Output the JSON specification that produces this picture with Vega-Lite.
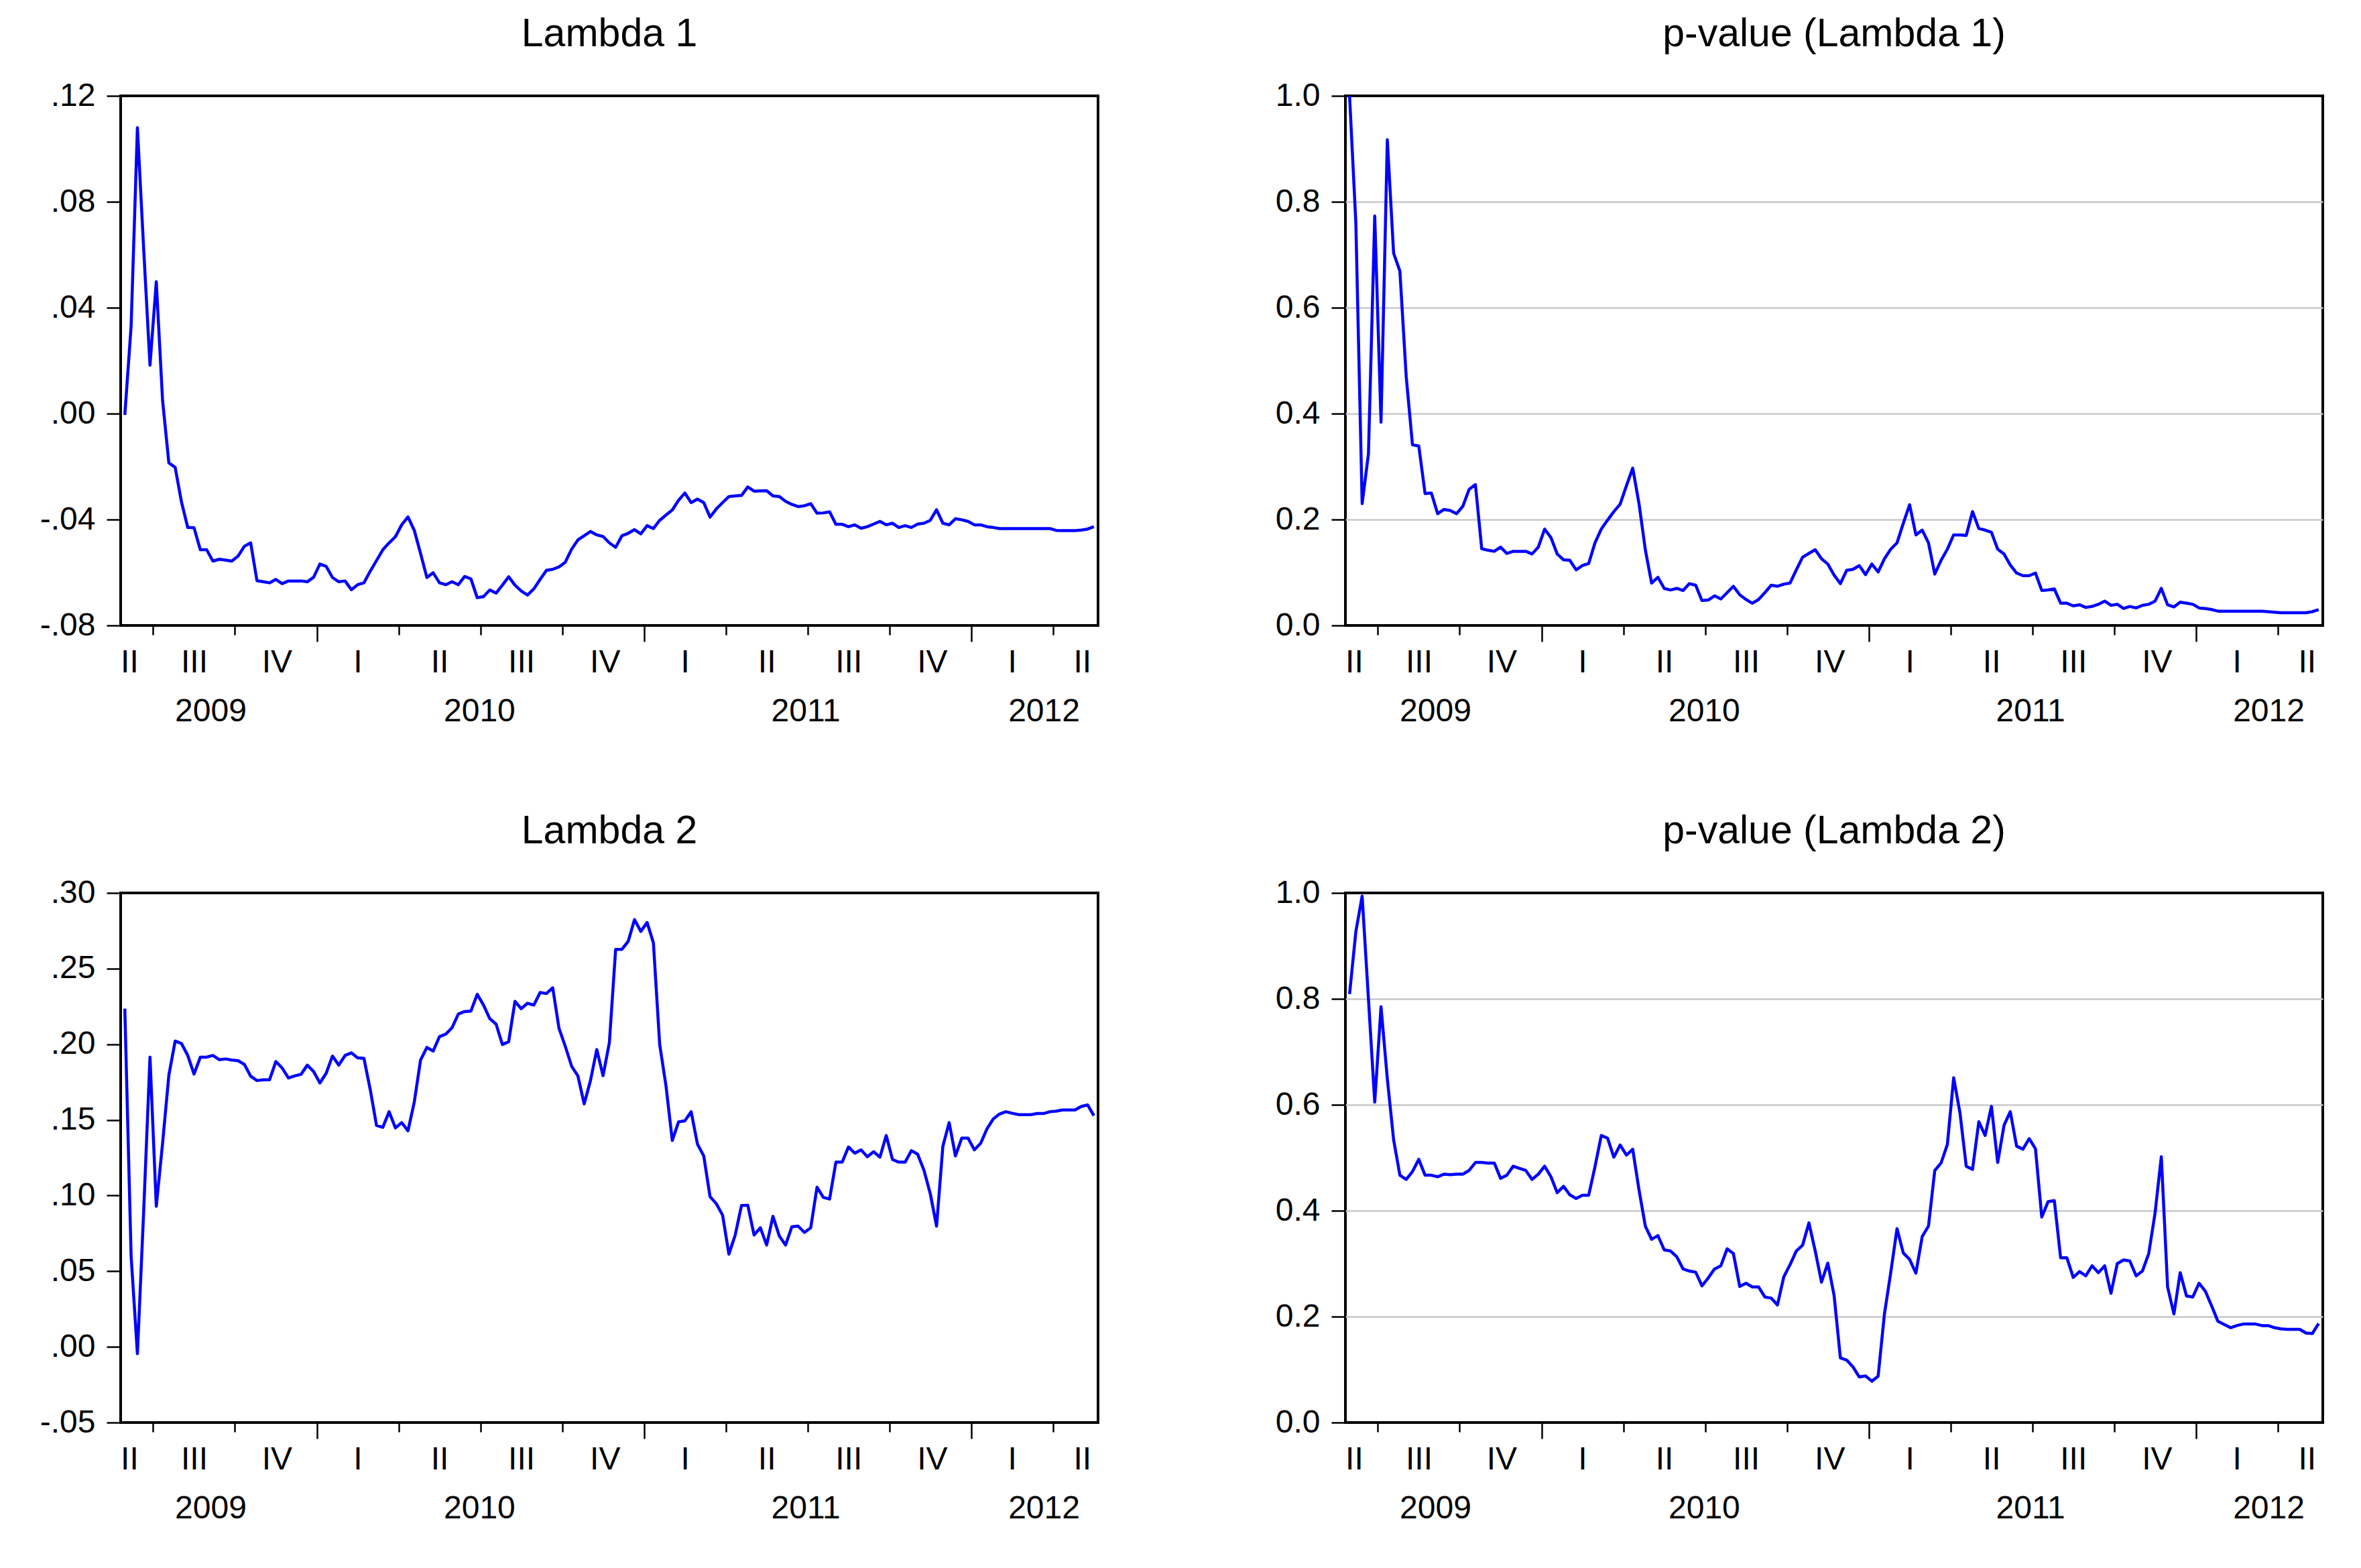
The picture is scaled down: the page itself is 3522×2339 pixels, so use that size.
{
  "$schema": "https://vega.github.io/schema/vega-lite/v6.json",
  "background": "white",
  "padding": {"left": 57, "top": 20, "right": 0, "bottom": 0},
  "datasets": {
    "weekly": [
      {"d": "2009-06-01", "l1": -0.0005, "p1": 1.0, "l2": 0.2235, "p2": 0.809},
      {"d": "2009-06-08", "l1": 0.033, "p1": 0.76, "l2": 0.06, "p2": 0.927},
      {"d": "2009-06-15", "l1": 0.108, "p1": 0.23, "l2": -0.0045, "p2": 0.994},
      {"d": "2009-06-22", "l1": 0.062, "p1": 0.324, "l2": 0.09, "p2": 0.8},
      {"d": "2009-06-29", "l1": 0.0183, "p1": 0.773, "l2": 0.1915, "p2": 0.605},
      {"d": "2009-07-06", "l1": 0.0498, "p1": 0.384, "l2": 0.0929, "p2": 0.785},
      {"d": "2009-07-13", "l1": 0.005, "p1": 0.917, "l2": 0.1345, "p2": 0.649},
      {"d": "2009-07-20", "l1": -0.0186, "p1": 0.703, "l2": 0.1796, "p2": 0.534},
      {"d": "2009-07-27", "l1": -0.0203, "p1": 0.669, "l2": 0.2021, "p2": 0.467},
      {"d": "2009-08-03", "l1": -0.0333, "p1": 0.47, "l2": 0.2005, "p2": 0.459},
      {"d": "2009-08-10", "l1": -0.043, "p1": 0.341, "l2": 0.1926, "p2": 0.474},
      {"d": "2009-08-17", "l1": -0.0431, "p1": 0.339, "l2": 0.1803, "p2": 0.497},
      {"d": "2009-08-24", "l1": -0.0514, "p1": 0.249, "l2": 0.1915, "p2": 0.467},
      {"d": "2009-08-31", "l1": -0.0514, "p1": 0.25, "l2": 0.1915, "p2": 0.467},
      {"d": "2009-09-07", "l1": -0.0557, "p1": 0.211, "l2": 0.1926, "p2": 0.464},
      {"d": "2009-09-14", "l1": -0.055, "p1": 0.219, "l2": 0.1898, "p2": 0.469},
      {"d": "2009-09-21", "l1": -0.0553, "p1": 0.217, "l2": 0.1903, "p2": 0.468},
      {"d": "2009-09-28", "l1": -0.0557, "p1": 0.211, "l2": 0.1896, "p2": 0.469},
      {"d": "2009-10-05", "l1": -0.0538, "p1": 0.225, "l2": 0.1891, "p2": 0.469},
      {"d": "2009-10-12", "l1": -0.0501, "p1": 0.257, "l2": 0.1867, "p2": 0.476},
      {"d": "2009-10-19", "l1": -0.0488, "p1": 0.266, "l2": 0.1789, "p2": 0.491},
      {"d": "2009-10-26", "l1": -0.0631, "p1": 0.145, "l2": 0.176, "p2": 0.491},
      {"d": "2009-11-02", "l1": -0.0635, "p1": 0.142, "l2": 0.1765, "p2": 0.49},
      {"d": "2009-11-09", "l1": -0.0639, "p1": 0.14, "l2": 0.1765, "p2": 0.49},
      {"d": "2009-11-16", "l1": -0.0626, "p1": 0.148, "l2": 0.1886, "p2": 0.461},
      {"d": "2009-11-23", "l1": -0.0642, "p1": 0.136, "l2": 0.1843, "p2": 0.467},
      {"d": "2009-11-30", "l1": -0.0632, "p1": 0.14, "l2": 0.1777, "p2": 0.484},
      {"d": "2009-12-07", "l1": -0.0632, "p1": 0.14, "l2": 0.1791, "p2": 0.48},
      {"d": "2009-12-14", "l1": -0.0632, "p1": 0.14, "l2": 0.1801, "p2": 0.476},
      {"d": "2009-12-21", "l1": -0.0635, "p1": 0.135, "l2": 0.1862, "p2": 0.459},
      {"d": "2009-12-28", "l1": -0.0618, "p1": 0.148, "l2": 0.182, "p2": 0.469},
      {"d": "2010-01-04", "l1": -0.0568, "p1": 0.182, "l2": 0.1744, "p2": 0.484},
      {"d": "2010-01-11", "l1": -0.0577, "p1": 0.166, "l2": 0.1808, "p2": 0.464},
      {"d": "2010-01-18", "l1": -0.0619, "p1": 0.135, "l2": 0.1922, "p2": 0.434},
      {"d": "2010-01-25", "l1": -0.0635, "p1": 0.124, "l2": 0.1862, "p2": 0.446},
      {"d": "2010-02-01", "l1": -0.0632, "p1": 0.123, "l2": 0.1926, "p2": 0.43},
      {"d": "2010-02-08", "l1": -0.0665, "p1": 0.105, "l2": 0.1943, "p2": 0.423},
      {"d": "2010-02-15", "l1": -0.0646, "p1": 0.113, "l2": 0.191, "p2": 0.429},
      {"d": "2010-02-22", "l1": -0.0639, "p1": 0.117, "l2": 0.1907, "p2": 0.429},
      {"d": "2010-03-01", "l1": -0.0595, "p1": 0.156, "l2": 0.1701, "p2": 0.483},
      {"d": "2010-03-08", "l1": -0.0555, "p1": 0.182, "l2": 0.1463, "p2": 0.542},
      {"d": "2010-03-15", "l1": -0.0514, "p1": 0.199, "l2": 0.1451, "p2": 0.537},
      {"d": "2010-03-22", "l1": -0.0488, "p1": 0.215, "l2": 0.1554, "p2": 0.501},
      {"d": "2010-03-29", "l1": -0.0465, "p1": 0.229, "l2": 0.1447, "p2": 0.524},
      {"d": "2010-04-05", "l1": -0.042, "p1": 0.264, "l2": 0.1482, "p2": 0.505},
      {"d": "2010-04-12", "l1": -0.039, "p1": 0.297, "l2": 0.1428, "p2": 0.516},
      {"d": "2010-04-19", "l1": -0.0441, "p1": 0.23, "l2": 0.1618, "p2": 0.439},
      {"d": "2010-04-26", "l1": -0.0528, "p1": 0.143, "l2": 0.1896, "p2": 0.371},
      {"d": "2010-05-03", "l1": -0.0619, "p1": 0.08, "l2": 0.1979, "p2": 0.346},
      {"d": "2010-05-10", "l1": -0.0601, "p1": 0.091, "l2": 0.1955, "p2": 0.353},
      {"d": "2010-05-17", "l1": -0.0639, "p1": 0.07, "l2": 0.205, "p2": 0.326},
      {"d": "2010-05-24", "l1": -0.0646, "p1": 0.067, "l2": 0.2067, "p2": 0.324},
      {"d": "2010-05-31", "l1": -0.0635, "p1": 0.07, "l2": 0.2109, "p2": 0.313},
      {"d": "2010-06-07", "l1": -0.0646, "p1": 0.066, "l2": 0.22, "p2": 0.29},
      {"d": "2010-06-14", "l1": -0.0615, "p1": 0.079, "l2": 0.2216, "p2": 0.286},
      {"d": "2010-06-21", "l1": -0.0624, "p1": 0.076, "l2": 0.2219, "p2": 0.284},
      {"d": "2010-06-28", "l1": -0.0695, "p1": 0.047, "l2": 0.233, "p2": 0.258},
      {"d": "2010-07-05", "l1": -0.0691, "p1": 0.048, "l2": 0.2259, "p2": 0.273},
      {"d": "2010-07-12", "l1": -0.0666, "p1": 0.056, "l2": 0.2169, "p2": 0.29},
      {"d": "2010-07-19", "l1": -0.0678, "p1": 0.05, "l2": 0.2133, "p2": 0.296},
      {"d": "2010-07-26", "l1": -0.0648, "p1": 0.062, "l2": 0.1998, "p2": 0.328},
      {"d": "2010-08-02", "l1": -0.0616, "p1": 0.074, "l2": 0.2017, "p2": 0.319},
      {"d": "2010-08-09", "l1": -0.0648, "p1": 0.058, "l2": 0.2283, "p2": 0.257},
      {"d": "2010-08-16", "l1": -0.067, "p1": 0.049, "l2": 0.2235, "p2": 0.263},
      {"d": "2010-08-23", "l1": -0.0685, "p1": 0.042, "l2": 0.2271, "p2": 0.256},
      {"d": "2010-08-30", "l1": -0.0662, "p1": 0.049, "l2": 0.2259, "p2": 0.256},
      {"d": "2010-09-06", "l1": -0.0626, "p1": 0.062, "l2": 0.2342, "p2": 0.237},
      {"d": "2010-09-13", "l1": -0.0592, "p1": 0.076, "l2": 0.2335, "p2": 0.235},
      {"d": "2010-09-20", "l1": -0.0588, "p1": 0.074, "l2": 0.2373, "p2": 0.222},
      {"d": "2010-09-27", "l1": -0.0579, "p1": 0.078, "l2": 0.2105, "p2": 0.275},
      {"d": "2010-10-04", "l1": -0.0561, "p1": 0.08, "l2": 0.1986, "p2": 0.298},
      {"d": "2010-10-11", "l1": -0.0512, "p1": 0.105, "l2": 0.1855, "p2": 0.324},
      {"d": "2010-10-18", "l1": -0.0477, "p1": 0.129, "l2": 0.1791, "p2": 0.335},
      {"d": "2010-10-25", "l1": -0.0461, "p1": 0.136, "l2": 0.1606, "p2": 0.377},
      {"d": "2010-11-01", "l1": -0.0445, "p1": 0.143, "l2": 0.176, "p2": 0.324},
      {"d": "2010-11-08", "l1": -0.0458, "p1": 0.126, "l2": 0.1965, "p2": 0.265},
      {"d": "2010-11-15", "l1": -0.0464, "p1": 0.116, "l2": 0.1792, "p2": 0.301},
      {"d": "2010-11-22", "l1": -0.0488, "p1": 0.095, "l2": 0.201, "p2": 0.24},
      {"d": "2010-11-29", "l1": -0.0505, "p1": 0.079, "l2": 0.2627, "p2": 0.122},
      {"d": "2010-12-06", "l1": -0.0461, "p1": 0.104, "l2": 0.2627, "p2": 0.118},
      {"d": "2010-12-13", "l1": -0.0452, "p1": 0.106, "l2": 0.268, "p2": 0.105},
      {"d": "2010-12-20", "l1": -0.0438, "p1": 0.113, "l2": 0.2824, "p2": 0.086},
      {"d": "2010-12-27", "l1": -0.0454, "p1": 0.096, "l2": 0.2746, "p2": 0.088},
      {"d": "2011-01-03", "l1": -0.0423, "p1": 0.116, "l2": 0.2805, "p2": 0.078},
      {"d": "2011-01-10", "l1": -0.0434, "p1": 0.101, "l2": 0.267, "p2": 0.0875},
      {"d": "2011-01-17", "l1": -0.0403, "p1": 0.126, "l2": 0.1998, "p2": 0.205},
      {"d": "2011-01-24", "l1": -0.0383, "p1": 0.144, "l2": 0.1725, "p2": 0.283},
      {"d": "2011-01-31", "l1": -0.0364, "p1": 0.156, "l2": 0.1364, "p2": 0.366},
      {"d": "2011-02-07", "l1": -0.0327, "p1": 0.193, "l2": 0.1487, "p2": 0.32},
      {"d": "2011-02-14", "l1": -0.03, "p1": 0.228, "l2": 0.1494, "p2": 0.308},
      {"d": "2011-02-21", "l1": -0.0336, "p1": 0.171, "l2": 0.1554, "p2": 0.282},
      {"d": "2011-02-28", "l1": -0.0323, "p1": 0.18, "l2": 0.134, "p2": 0.351},
      {"d": "2011-03-07", "l1": -0.0336, "p1": 0.156, "l2": 0.1262, "p2": 0.371},
      {"d": "2011-03-14", "l1": -0.0391, "p1": 0.097, "l2": 0.0993, "p2": 0.476},
      {"d": "2011-03-21", "l1": -0.036, "p1": 0.123, "l2": 0.0946, "p2": 0.49},
      {"d": "2011-03-28", "l1": -0.0336, "p1": 0.144, "l2": 0.087, "p2": 0.525},
      {"d": "2011-04-04", "l1": -0.0313, "p1": 0.171, "l2": 0.0613, "p2": 0.651},
      {"d": "2011-04-11", "l1": -0.0311, "p1": 0.171, "l2": 0.0739, "p2": 0.585},
      {"d": "2011-04-18", "l1": -0.0309, "p1": 0.17, "l2": 0.0934, "p2": 0.484},
      {"d": "2011-04-25", "l1": -0.0277, "p1": 0.215, "l2": 0.0936, "p2": 0.478},
      {"d": "2011-05-02", "l1": -0.0293, "p1": 0.183, "l2": 0.0739, "p2": 0.568},
      {"d": "2011-05-09", "l1": -0.0292, "p1": 0.18, "l2": 0.0787, "p2": 0.542},
      {"d": "2011-05-16", "l1": -0.0291, "p1": 0.176, "l2": 0.0673, "p2": 0.597},
      {"d": "2011-05-23", "l1": -0.0311, "p1": 0.144, "l2": 0.0863, "p2": 0.491},
      {"d": "2011-05-30", "l1": -0.0313, "p1": 0.135, "l2": 0.0734, "p2": 0.561},
      {"d": "2011-06-06", "l1": -0.0331, "p1": 0.114, "l2": 0.0673, "p2": 0.587},
      {"d": "2011-06-13", "l1": -0.0343, "p1": 0.099, "l2": 0.0794, "p2": 0.522},
      {"d": "2011-06-20", "l1": -0.0351, "p1": 0.094, "l2": 0.0798, "p2": 0.516},
      {"d": "2011-06-27", "l1": -0.0348, "p1": 0.094, "l2": 0.0756, "p2": 0.536},
      {"d": "2011-07-04", "l1": -0.034, "p1": 0.099, "l2": 0.0787, "p2": 0.517},
      {"d": "2011-07-11", "l1": -0.0376, "p1": 0.066, "l2": 0.1055, "p2": 0.388},
      {"d": "2011-07-18", "l1": -0.0375, "p1": 0.067, "l2": 0.0988, "p2": 0.417},
      {"d": "2011-07-25", "l1": -0.0371, "p1": 0.069, "l2": 0.0977, "p2": 0.419},
      {"d": "2011-08-01", "l1": -0.0418, "p1": 0.042, "l2": 0.1221, "p2": 0.311},
      {"d": "2011-08-08", "l1": -0.0418, "p1": 0.042, "l2": 0.1221, "p2": 0.311},
      {"d": "2011-08-15", "l1": -0.0427, "p1": 0.037, "l2": 0.1321, "p2": 0.274},
      {"d": "2011-08-22", "l1": -0.042, "p1": 0.039, "l2": 0.128, "p2": 0.285},
      {"d": "2011-08-29", "l1": -0.0433, "p1": 0.034, "l2": 0.1302, "p2": 0.277},
      {"d": "2011-09-05", "l1": -0.0427, "p1": 0.036, "l2": 0.1257, "p2": 0.296},
      {"d": "2011-09-12", "l1": -0.0417, "p1": 0.04, "l2": 0.129, "p2": 0.283},
      {"d": "2011-09-19", "l1": -0.0407, "p1": 0.046, "l2": 0.1254, "p2": 0.296},
      {"d": "2011-09-26", "l1": -0.042, "p1": 0.038, "l2": 0.1397, "p2": 0.244},
      {"d": "2011-10-03", "l1": -0.0414, "p1": 0.04, "l2": 0.1238, "p2": 0.3},
      {"d": "2011-10-10", "l1": -0.043, "p1": 0.032, "l2": 0.1221, "p2": 0.307},
      {"d": "2011-10-17", "l1": -0.0423, "p1": 0.036, "l2": 0.1221, "p2": 0.305},
      {"d": "2011-10-24", "l1": -0.043, "p1": 0.033, "l2": 0.1297, "p2": 0.277},
      {"d": "2011-10-31", "l1": -0.0417, "p1": 0.038, "l2": 0.1273, "p2": 0.286},
      {"d": "2011-11-07", "l1": -0.0414, "p1": 0.04, "l2": 0.1167, "p2": 0.319},
      {"d": "2011-11-14", "l1": -0.0403, "p1": 0.046, "l2": 0.1012, "p2": 0.395},
      {"d": "2011-11-21", "l1": -0.0363, "p1": 0.07, "l2": 0.0798, "p2": 0.502},
      {"d": "2011-11-28", "l1": -0.0414, "p1": 0.039, "l2": 0.1326, "p2": 0.256},
      {"d": "2011-12-05", "l1": -0.042, "p1": 0.035, "l2": 0.1482, "p2": 0.205},
      {"d": "2011-12-12", "l1": -0.0397, "p1": 0.044, "l2": 0.1262, "p2": 0.283},
      {"d": "2011-12-19", "l1": -0.0401, "p1": 0.042, "l2": 0.138, "p2": 0.239},
      {"d": "2011-12-26", "l1": -0.0407, "p1": 0.04, "l2": 0.138, "p2": 0.237},
      {"d": "2012-01-02", "l1": -0.042, "p1": 0.033, "l2": 0.1302, "p2": 0.263},
      {"d": "2012-01-09", "l1": -0.042, "p1": 0.032, "l2": 0.1345, "p2": 0.248},
      {"d": "2012-01-16", "l1": -0.0427, "p1": 0.03, "l2": 0.144, "p2": 0.22},
      {"d": "2012-01-23", "l1": -0.043, "p1": 0.027, "l2": 0.1506, "p2": 0.191},
      {"d": "2012-01-30", "l1": -0.0434, "p1": 0.027, "l2": 0.1539, "p2": 0.185},
      {"d": "2012-02-06", "l1": -0.0434, "p1": 0.027, "l2": 0.1554, "p2": 0.179},
      {"d": "2012-02-13", "l1": -0.0434, "p1": 0.027, "l2": 0.1544, "p2": 0.183},
      {"d": "2012-02-20", "l1": -0.0434, "p1": 0.027, "l2": 0.1535, "p2": 0.186},
      {"d": "2012-02-27", "l1": -0.0434, "p1": 0.027, "l2": 0.1535, "p2": 0.186},
      {"d": "2012-03-05", "l1": -0.0434, "p1": 0.027, "l2": 0.1535, "p2": 0.186},
      {"d": "2012-03-12", "l1": -0.0434, "p1": 0.027, "l2": 0.1542, "p2": 0.183},
      {"d": "2012-03-19", "l1": -0.0434, "p1": 0.026, "l2": 0.1542, "p2": 0.183},
      {"d": "2012-03-26", "l1": -0.0434, "p1": 0.025, "l2": 0.1554, "p2": 0.179},
      {"d": "2012-04-02", "l1": -0.0441, "p1": 0.024, "l2": 0.1558, "p2": 0.177},
      {"d": "2012-04-09", "l1": -0.0442, "p1": 0.024, "l2": 0.1566, "p2": 0.176},
      {"d": "2012-04-16", "l1": -0.0442, "p1": 0.024, "l2": 0.1566, "p2": 0.176},
      {"d": "2012-04-23", "l1": -0.0442, "p1": 0.024, "l2": 0.1566, "p2": 0.176},
      {"d": "2012-04-30", "l1": -0.044, "p1": 0.024, "l2": 0.1589, "p2": 0.169},
      {"d": "2012-05-07", "l1": -0.0436, "p1": 0.026, "l2": 0.1599, "p2": 0.168},
      {"d": "2012-05-14", "l1": -0.0427, "p1": 0.03, "l2": 0.1528, "p2": 0.187}
    ]
  },
  "config": {
    "view": {"stroke": "black", "strokeWidth": 4},
    "font": "Liberation Sans",
    "axis": {
      "labelFont": "Liberation Sans",
      "labelFontSize": 48,
      "labelColor": "black",
      "tickColor": "black",
      "tickWidth": 2.5,
      "domain": false,
      "grid": false
    },
    "axisY": {"tickSize": 21, "labelPadding": 17},
    "title": {
      "font": "Liberation Sans",
      "fontSize": 59,
      "fontWeight": "normal",
      "color": "black",
      "frame": "group",
      "anchor": "middle",
      "baseline": "alphabetic",
      "offset": 38
    },
    "line": {"color": "#0000FF", "strokeWidth": 4.5, "strokeJoin": "round"}
  },
  "spacing": 122,
  "vconcat": [
    {
      "spacing": 260,
      "hconcat": [
        {
          "title": "Lambda 1",
          "width": 1458,
          "height": 790,
          "data": {"name": "weekly"},
          "mark": "line",
          "encoding": {
            "x": {
              "field": "d", "type": "temporal",
              "scale": {"nice": false, "domain": [{"year": 2009, "month": 5, "date": 27, "hours": 9}, {"year": 2012, "month": 5, "date": 18, "hours": 15}]},
              "axis": {
                "title": null, "labelOverlap": false, "labelFlush": false, "labelBound": false,
                "values": [
                  {"year": 2009, "month": 7, "date": 2, "hours": 12}, {"year": 2009, "month": 10, "date": 1, "hours": 12}, {"year": 2009, "month": 12, "date": 31, "hours": 12},
                  {"year": 2010, "month": 4, "date": 1, "hours": 12}, {"year": 2010, "month": 7, "date": 1, "hours": 12}, {"year": 2010, "month": 9, "date": 30, "hours": 12}, {"year": 2010, "month": 12, "date": 30, "hours": 12},
                  {"year": 2011, "month": 3, "date": 31, "hours": 12}, {"year": 2011, "month": 6, "date": 30, "hours": 12}, {"year": 2011, "month": 9, "date": 29, "hours": 12}, {"year": 2011, "month": 12, "date": 29, "hours": 12},
                  {"year": 2012, "month": 3, "date": 29, "hours": 12},
                  {"year": 2009, "month": 6, "date": 6}, {"year": 2009, "month": 8, "date": 17}, {"year": 2009, "month": 11, "date": 17},
                  {"year": 2010, "month": 2, "date": 15}, {"year": 2010, "month": 5, "date": 17}, {"year": 2010, "month": 8, "date": 16}, {"year": 2010, "month": 11, "date": 17},
                  {"year": 2011, "month": 2, "date": 14}, {"year": 2011, "month": 5, "date": 16}, {"year": 2011, "month": 8, "date": 15}, {"year": 2011, "month": 11, "date": 16},
                  {"year": 2012, "month": 2, "date": 13}, {"year": 2012, "month": 5, "date": 1},
                  {"year": 2009, "month": 9, "date": 4, "hours": 6}, {"year": 2010, "month": 6, "date": 30, "hours": 6}, {"year": 2011, "month": 6, "date": 28, "hours": 6}, {"year": 2012, "month": 3, "date": 19, "hours": 6}
                ],
                "labelExpr": "hours(datum.value) == 12 ? '' : (hours(datum.value) == 6 ? timeFormat(datum.value, '%Y') : ['I','II','III','IV'][quarter(datum.value) - 1])",
                "tickSize": {"condition": {"test": "hours(datum.value) == 12 && month(datum.value) == 11", "value": 24}, "value": 14},
                "tickOpacity": {"condition": {"test": "hours(datum.value) == 12", "value": 1}, "value": 0},
                "labelPadding": {"condition": {"test": "hours(datum.value) == 6", "value": 90}, "value": 17}
              }
            },
            "y": {
              "field": "l1", "type": "quantitative",
              "scale": {"domain": [-0.08, 0.12], "nice": false, "zero": false},
              "axis": {"title": null, "values": [-0.08, -0.04, 0, 0.04, 0.08, 0.12], "labelExpr": "replace(replace(format(datum.value, '.2f'), '0.', '.'), '\u2212', '-')"}
            }
          }
        },
        {
          "title": "p-value (Lambda 1)",
          "width": 1458,
          "height": 790,
          "data": {"name": "weekly"},
          "mark": "line",
          "encoding": {
            "x": {
              "field": "d", "type": "temporal",
              "scale": {"nice": false, "domain": [{"year": 2009, "month": 5, "date": 27, "hours": 9}, {"year": 2012, "month": 5, "date": 18, "hours": 15}]},
              "axis": {
                "title": null, "labelOverlap": false, "labelFlush": false, "labelBound": false,
                "values": [
                  {"year": 2009, "month": 7, "date": 2, "hours": 12}, {"year": 2009, "month": 10, "date": 1, "hours": 12}, {"year": 2009, "month": 12, "date": 31, "hours": 12},
                  {"year": 2010, "month": 4, "date": 1, "hours": 12}, {"year": 2010, "month": 7, "date": 1, "hours": 12}, {"year": 2010, "month": 9, "date": 30, "hours": 12}, {"year": 2010, "month": 12, "date": 30, "hours": 12},
                  {"year": 2011, "month": 3, "date": 31, "hours": 12}, {"year": 2011, "month": 6, "date": 30, "hours": 12}, {"year": 2011, "month": 9, "date": 29, "hours": 12}, {"year": 2011, "month": 12, "date": 29, "hours": 12},
                  {"year": 2012, "month": 3, "date": 29, "hours": 12},
                  {"year": 2009, "month": 6, "date": 6}, {"year": 2009, "month": 8, "date": 17}, {"year": 2009, "month": 11, "date": 17},
                  {"year": 2010, "month": 2, "date": 15}, {"year": 2010, "month": 5, "date": 17}, {"year": 2010, "month": 8, "date": 16}, {"year": 2010, "month": 11, "date": 17},
                  {"year": 2011, "month": 2, "date": 14}, {"year": 2011, "month": 5, "date": 16}, {"year": 2011, "month": 8, "date": 15}, {"year": 2011, "month": 11, "date": 16},
                  {"year": 2012, "month": 2, "date": 13}, {"year": 2012, "month": 5, "date": 1},
                  {"year": 2009, "month": 9, "date": 4, "hours": 6}, {"year": 2010, "month": 6, "date": 30, "hours": 6}, {"year": 2011, "month": 6, "date": 28, "hours": 6}, {"year": 2012, "month": 3, "date": 19, "hours": 6}
                ],
                "labelExpr": "hours(datum.value) == 12 ? '' : (hours(datum.value) == 6 ? timeFormat(datum.value, '%Y') : ['I','II','III','IV'][quarter(datum.value) - 1])",
                "tickSize": {"condition": {"test": "hours(datum.value) == 12 && month(datum.value) == 11", "value": 24}, "value": 14},
                "tickOpacity": {"condition": {"test": "hours(datum.value) == 12", "value": 1}, "value": 0},
                "labelPadding": {"condition": {"test": "hours(datum.value) == 6", "value": 90}, "value": 17}
              }
            },
            "y": {
              "field": "p1", "type": "quantitative",
              "scale": {"domain": [0, 1], "nice": false},
              "axis": {"title": null, "values": [0, 0.2, 0.4, 0.6, 0.8, 1], "format": ".1f", "grid": true, "gridColor": "#C8C8C8", "gridWidth": 2.5,
                "gridOpacity": {"condition": {"test": "datum.value == 0 || datum.value == 1", "value": 0}, "value": 1}}
            }
          }
        }
      ]
    },
    {
      "spacing": 260,
      "hconcat": [
        {
          "title": "Lambda 2",
          "width": 1458,
          "height": 790,
          "data": {"name": "weekly"},
          "mark": "line",
          "encoding": {
            "x": {
              "field": "d", "type": "temporal",
              "scale": {"nice": false, "domain": [{"year": 2009, "month": 5, "date": 27, "hours": 9}, {"year": 2012, "month": 5, "date": 18, "hours": 15}]},
              "axis": {
                "title": null, "labelOverlap": false, "labelFlush": false, "labelBound": false,
                "values": [
                  {"year": 2009, "month": 7, "date": 2, "hours": 12}, {"year": 2009, "month": 10, "date": 1, "hours": 12}, {"year": 2009, "month": 12, "date": 31, "hours": 12},
                  {"year": 2010, "month": 4, "date": 1, "hours": 12}, {"year": 2010, "month": 7, "date": 1, "hours": 12}, {"year": 2010, "month": 9, "date": 30, "hours": 12}, {"year": 2010, "month": 12, "date": 30, "hours": 12},
                  {"year": 2011, "month": 3, "date": 31, "hours": 12}, {"year": 2011, "month": 6, "date": 30, "hours": 12}, {"year": 2011, "month": 9, "date": 29, "hours": 12}, {"year": 2011, "month": 12, "date": 29, "hours": 12},
                  {"year": 2012, "month": 3, "date": 29, "hours": 12},
                  {"year": 2009, "month": 6, "date": 6}, {"year": 2009, "month": 8, "date": 17}, {"year": 2009, "month": 11, "date": 17},
                  {"year": 2010, "month": 2, "date": 15}, {"year": 2010, "month": 5, "date": 17}, {"year": 2010, "month": 8, "date": 16}, {"year": 2010, "month": 11, "date": 17},
                  {"year": 2011, "month": 2, "date": 14}, {"year": 2011, "month": 5, "date": 16}, {"year": 2011, "month": 8, "date": 15}, {"year": 2011, "month": 11, "date": 16},
                  {"year": 2012, "month": 2, "date": 13}, {"year": 2012, "month": 5, "date": 1},
                  {"year": 2009, "month": 9, "date": 4, "hours": 6}, {"year": 2010, "month": 6, "date": 30, "hours": 6}, {"year": 2011, "month": 6, "date": 28, "hours": 6}, {"year": 2012, "month": 3, "date": 19, "hours": 6}
                ],
                "labelExpr": "hours(datum.value) == 12 ? '' : (hours(datum.value) == 6 ? timeFormat(datum.value, '%Y') : ['I','II','III','IV'][quarter(datum.value) - 1])",
                "tickSize": {"condition": {"test": "hours(datum.value) == 12 && month(datum.value) == 11", "value": 24}, "value": 14},
                "tickOpacity": {"condition": {"test": "hours(datum.value) == 12", "value": 1}, "value": 0},
                "labelPadding": {"condition": {"test": "hours(datum.value) == 6", "value": 90}, "value": 17}
              }
            },
            "y": {
              "field": "l2", "type": "quantitative",
              "scale": {"domain": [-0.05, 0.3], "nice": false, "zero": false},
              "axis": {"title": null, "values": [-0.05, 0, 0.05, 0.1, 0.15, 0.2, 0.25, 0.3], "labelExpr": "replace(replace(format(datum.value, '.2f'), '0.', '.'), '\u2212', '-')"}
            }
          }
        },
        {
          "title": "p-value (Lambda 2)",
          "width": 1458,
          "height": 790,
          "data": {"name": "weekly"},
          "mark": "line",
          "encoding": {
            "x": {
              "field": "d", "type": "temporal",
              "scale": {"nice": false, "domain": [{"year": 2009, "month": 5, "date": 27, "hours": 9}, {"year": 2012, "month": 5, "date": 18, "hours": 15}]},
              "axis": {
                "title": null, "labelOverlap": false, "labelFlush": false, "labelBound": false,
                "values": [
                  {"year": 2009, "month": 7, "date": 2, "hours": 12}, {"year": 2009, "month": 10, "date": 1, "hours": 12}, {"year": 2009, "month": 12, "date": 31, "hours": 12},
                  {"year": 2010, "month": 4, "date": 1, "hours": 12}, {"year": 2010, "month": 7, "date": 1, "hours": 12}, {"year": 2010, "month": 9, "date": 30, "hours": 12}, {"year": 2010, "month": 12, "date": 30, "hours": 12},
                  {"year": 2011, "month": 3, "date": 31, "hours": 12}, {"year": 2011, "month": 6, "date": 30, "hours": 12}, {"year": 2011, "month": 9, "date": 29, "hours": 12}, {"year": 2011, "month": 12, "date": 29, "hours": 12},
                  {"year": 2012, "month": 3, "date": 29, "hours": 12},
                  {"year": 2009, "month": 6, "date": 6}, {"year": 2009, "month": 8, "date": 17}, {"year": 2009, "month": 11, "date": 17},
                  {"year": 2010, "month": 2, "date": 15}, {"year": 2010, "month": 5, "date": 17}, {"year": 2010, "month": 8, "date": 16}, {"year": 2010, "month": 11, "date": 17},
                  {"year": 2011, "month": 2, "date": 14}, {"year": 2011, "month": 5, "date": 16}, {"year": 2011, "month": 8, "date": 15}, {"year": 2011, "month": 11, "date": 16},
                  {"year": 2012, "month": 2, "date": 13}, {"year": 2012, "month": 5, "date": 1},
                  {"year": 2009, "month": 9, "date": 4, "hours": 6}, {"year": 2010, "month": 6, "date": 30, "hours": 6}, {"year": 2011, "month": 6, "date": 28, "hours": 6}, {"year": 2012, "month": 3, "date": 19, "hours": 6}
                ],
                "labelExpr": "hours(datum.value) == 12 ? '' : (hours(datum.value) == 6 ? timeFormat(datum.value, '%Y') : ['I','II','III','IV'][quarter(datum.value) - 1])",
                "tickSize": {"condition": {"test": "hours(datum.value) == 12 && month(datum.value) == 11", "value": 24}, "value": 14},
                "tickOpacity": {"condition": {"test": "hours(datum.value) == 12", "value": 1}, "value": 0},
                "labelPadding": {"condition": {"test": "hours(datum.value) == 6", "value": 90}, "value": 17}
              }
            },
            "y": {
              "field": "p2", "type": "quantitative",
              "scale": {"domain": [0, 1], "nice": false},
              "axis": {"title": null, "values": [0, 0.2, 0.4, 0.6, 0.8, 1], "format": ".1f", "grid": true, "gridColor": "#C8C8C8", "gridWidth": 2.5,
                "gridOpacity": {"condition": {"test": "datum.value == 0 || datum.value == 1", "value": 0}, "value": 1}}
            }
          }
        }
      ]
    }
  ]
}
